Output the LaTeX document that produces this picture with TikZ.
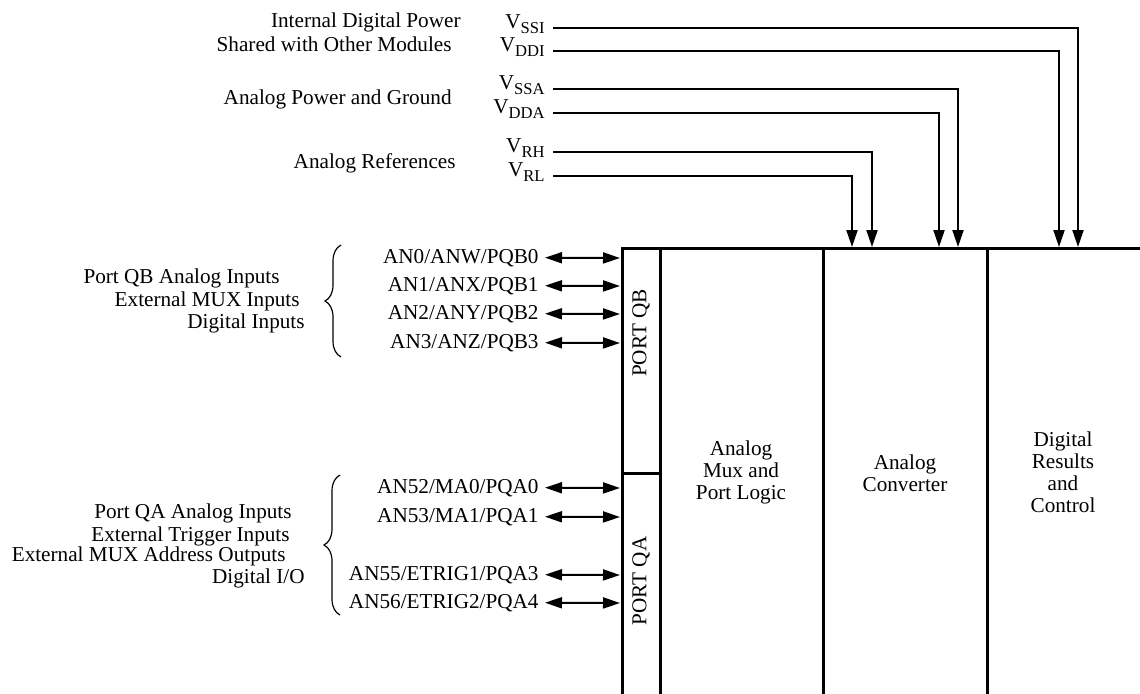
\documentclass[tikz,border=0pt]{standalone}
\usepackage{fontspec}
\setmainfont{Liberation Serif}
\usetikzlibrary{arrows.meta,decorations.pathreplacing,positioning}

\newcommand{\sbs}[1]{\raisebox{-2.6pt}{\fontsize{8.3}{9}\selectfont #1}}

\tikzset{
  blk/.style={line width=1.5pt},
  wire/.style={line width=1pt},
  feed/.style={wire,-{Triangle[length=8.5pt,width=5.5pt]}},
  pin/.style={wire,{Triangle[length=8.5pt,width=5.5pt]}-{Triangle[length=8.5pt,width=5.5pt]}},
  lbl/.style={inner sep=0pt, font=\fontsize{10.6}{11}\selectfont},
  grp/.style={lbl, anchor=base east},
  unit/.style={lbl, align=center},
  thinbrace/.style={decorate, decoration={brace, amplitude=8pt}, line width=0.6pt}
}

\begin{document}
\begin{tikzpicture}[x=0.5pt, y=-0.5pt]
\useasboundingbox (0,0) rectangle (1140,693);
\clip (0,0) rectangle (1140,693);

% converter block
\draw[blk] (622,700) |- (1150,248);
\draw[blk] (660,248) -- (660,700);
\draw[blk] (622,473) -- (660,473);
\draw[blk] (823,248) -- (823,700);
\draw[blk] (987,248) -- (987,700);
\node[lbl, rotate=90] (portqb) at (641,333) {PORT QB};
\node[lbl, rotate=90] (portqa) at (641,581) {PORT QA};
\node[unit] (mux) at (741,472) {Analog\\Mux and\\Port Logic};
\node[unit] (conv) at (905,473) {Analog\\Converter};
\node[unit] (dig) at (1063,472) {Digital\\Results\\and\\Control};

% supplies
\coordinate (tssi) at (1078,247);
\coordinate (tddi) at (1059,247);
\coordinate (tssa) at (958,247);
\coordinate (tdda) at (939,247);
\coordinate (trh) at (872,247);
\coordinate (trl) at (852,247);
\node[grp] (vssi) at (545,28) {V\sbs{SSI}};
\node[grp] (vddi) at (545,51) {V\sbs{DDI}};
\node[grp] (vssa) at (545,89) {V\sbs{SSA}};
\node[grp] (vdda) at (545,113) {V\sbs{DDA}};
\node[grp] (vrh) at (545,152) {V\sbs{RH}};
\node[grp] (vrl) at (545,176) {V\sbs{RL}};
\draw[feed] ([xshift=4pt]vssi.base east) -| (tssi);
\draw[feed] ([xshift=4pt]vddi.base east) -| (tddi);
\draw[feed] ([xshift=4pt]vssa.base east) -| (tssa);
\draw[feed] ([xshift=4pt]vdda.base east) -| (tdda);
\draw[feed] ([xshift=4pt]vrh.base east) -| (trh);
\draw[feed] ([xshift=4pt]vrl.base east) -| (trl);
\node[grp] (intdig) at (461,27) {Internal Digital Power};
\node[grp] (shared) at (452,51) {Shared with Other Modules};
\node[grp] (apwr) at (452,104) {Analog Power and Ground};
\node[grp] (aref) at (456,168) {Analog References};

% port QB pins
\coordinate (qb0) at (620,258);
\coordinate (qb1) at (620,286);
\coordinate (qb2) at (620,314);
\coordinate (qb3) at (620,343);
\node[grp] (pqb0) at (539,263) {AN0/ANW/PQB0};
\node[grp] (pqb1) at (539,291) {AN1/ANX/PQB1};
\node[grp] (pqb2) at (539,319) {AN2/ANY/PQB2};
\node[grp] (pqb3) at (539,348) {AN3/ANZ/PQB3};
\draw[pin] ([xshift=3pt]pqb0.east) -- (qb0);
\draw[pin] ([xshift=3pt]pqb1.east) -- (qb1);
\draw[pin] ([xshift=3pt]pqb2.east) -- (qb2);
\draw[pin] ([xshift=3pt]pqb3.east) -- (qb3);
\draw[thinbrace] (341,357) -- (341,245);
\node[grp] (qbana) at (280,283) {Port QB Analog Inputs};
\node[grp] (qbmux) at (300,306) {External MUX Inputs};
\node[grp] (qbdig) at (305,328) {Digital Inputs};

% port QA pins
\coordinate (qa0) at (620,488);
\coordinate (qa1) at (620,517);
\coordinate (qa3) at (620,575);
\coordinate (qa4) at (620,603);
\node[grp] (pqa0) at (539,493) {AN52/MA0/PQA0};
\node[grp] (pqa1) at (539,522) {AN53/MA1/PQA1};
\node[grp] (pqa3) at (539,580) {AN55/ETRIG1/PQA3};
\node[grp] (pqa4) at (539,608) {AN56/ETRIG2/PQA4};
\draw[pin] ([xshift=3pt]pqa0.east) -- (qa0);
\draw[pin] ([xshift=3pt]pqa1.east) -- (qa1);
\draw[pin] ([xshift=3pt]pqa3.east) -- (qa3);
\draw[pin] ([xshift=3pt]pqa4.east) -- (qa4);
\draw[thinbrace] (340,615) -- (340,475);
\node[grp] (qaana) at (292,518) {Port QA Analog Inputs};
\node[grp] (qatrg) at (290,541) {External Trigger Inputs};
\node[grp] (qamux) at (286,561) {External MUX Address Outputs};
\node[grp] (qadig) at (305,583) {Digital I/O};
\end{tikzpicture}
\end{document}
